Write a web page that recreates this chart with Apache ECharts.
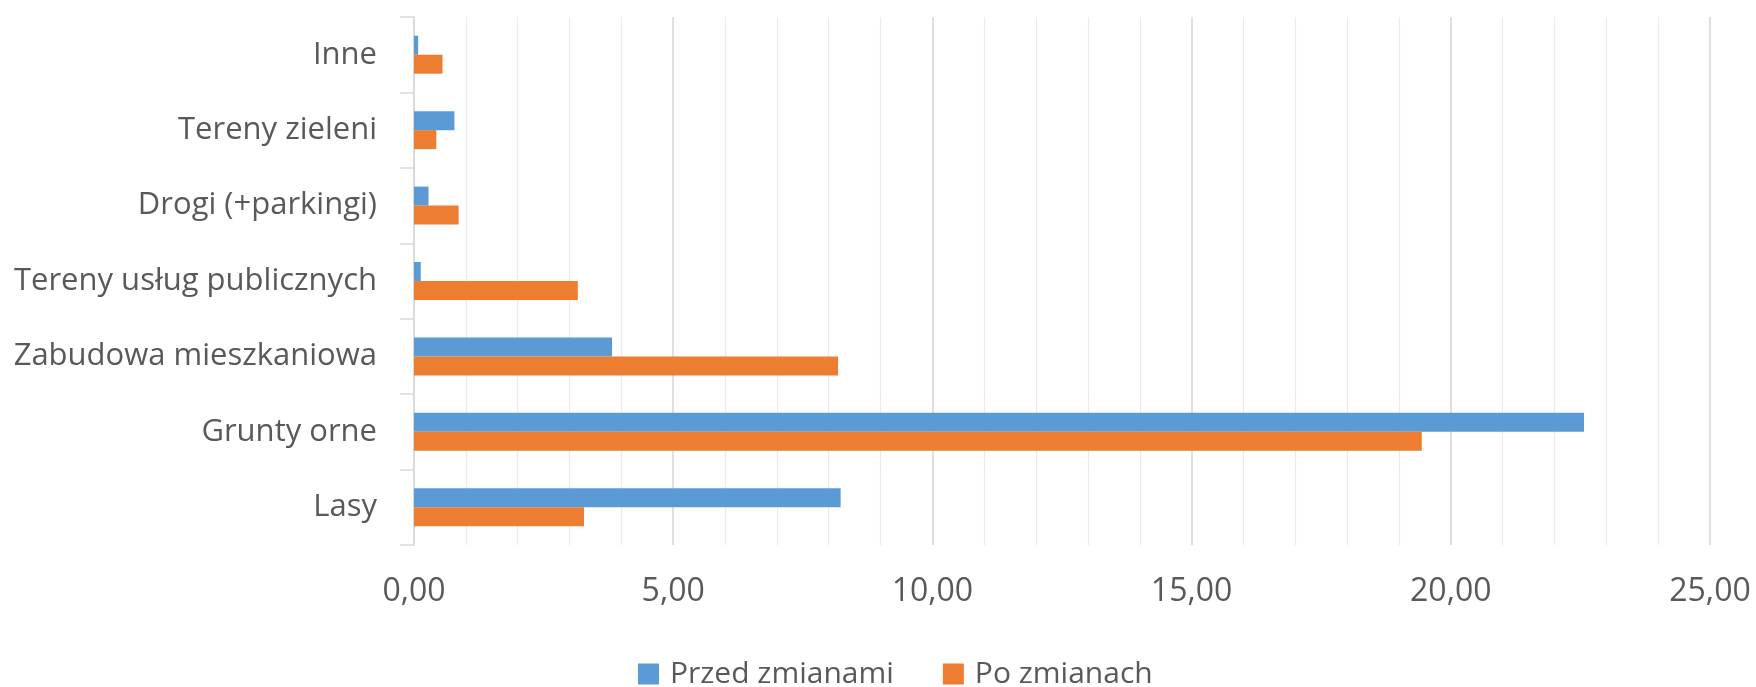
<!DOCTYPE html>
<html>
<head>
<meta charset="utf-8">
<script src="https://cdn.jsdelivr.net/npm/echarts@6/dist/echarts.min.js"></script>
<style>html,body{margin:0;padding:0;background:#fff;}#c{width:1756px;height:687px;}</style>
</head>
<body>
<div id="c"></div>
<script>
const categories = ['Lasy', 'Grunty orne', 'Zabudowa mieszkaniowa', 'Tereny usług publicznych', 'Drogi (+parkingi)', 'Tereny zieleni', 'Inne'];
const seriesNames = ['Przed zmianami', 'Po zmianach'];
const przedZmianami = [8.23, 22.57, 3.82, 0.13, 0.28, 0.78, 0.08];
const poZmianach = [3.28, 19.44, 8.18, 3.16, 0.86, 0.43, 0.55];
const xTicks = { min: 0, max: 25, interval: 5 };

const font = 'Open Sans';
const textColor = '#595959';
const chart = echarts.init(document.getElementById('c'));
chart.setOption({
  animation: false,
  textStyle: { fontFamily: font },
  grid: { left: 414, right: 46, top: 17, bottom: 142, containLabel: false },
  legend: {
    data: seriesNames,
    top: 659,
    left: 638,
    padding: 0,
    itemWidth: 21,
    itemHeight: 21,
    itemGap: 49,
    icon: 'rect',
    textStyle: { fontFamily: font, fontSize: 30, lineHeight: 30, color: textColor, padding: [0, 0, 0, 6] }
  },
  xAxis: {
    type: 'value',
    min: xTicks.min,
    max: xTicks.max,
    interval: xTicks.interval,
    axisLine: { show: false },
    axisTick: { show: false },
    splitLine: { show: true, lineStyle: { color: '#D6D6D6', width: 1.5 } },
    minorSplitLine: { show: true, lineStyle: { color: '#EBEBEB', width: 1.2 } },
    minorTick: { show: false, splitNumber: 5 },
    axisLabel: {
      color: textColor, fontSize: 32, lineHeight: 32, fontFamily: font, margin: 31,
      formatter: v => v.toFixed(2).replace('.', ',')
    }
  },
  yAxis: {
    type: 'category',
    data: categories,
    axisLine: { show: true, lineStyle: { color: '#D9D9D9', width: 1.5 } },
    axisTick: { show: true, length: 14, lineStyle: { color: '#D9D9D9', width: 1.5 } },
    axisLabel: { color: textColor, fontSize: 31, fontFamily: font, margin: 37 }
  },
  series: [
    {
      name: seriesNames[0], type: 'bar', data: przedZmianami,
      barWidth: 19, barGap: '0%',
      itemStyle: { color: '#5B9BD5' }
    },
    {
      name: seriesNames[1], type: 'bar', data: poZmianach,
      barWidth: 19, barGap: '0%',
      itemStyle: { color: '#ED7D31' }
    }
  ]
});
</script>
</body>
</html>
